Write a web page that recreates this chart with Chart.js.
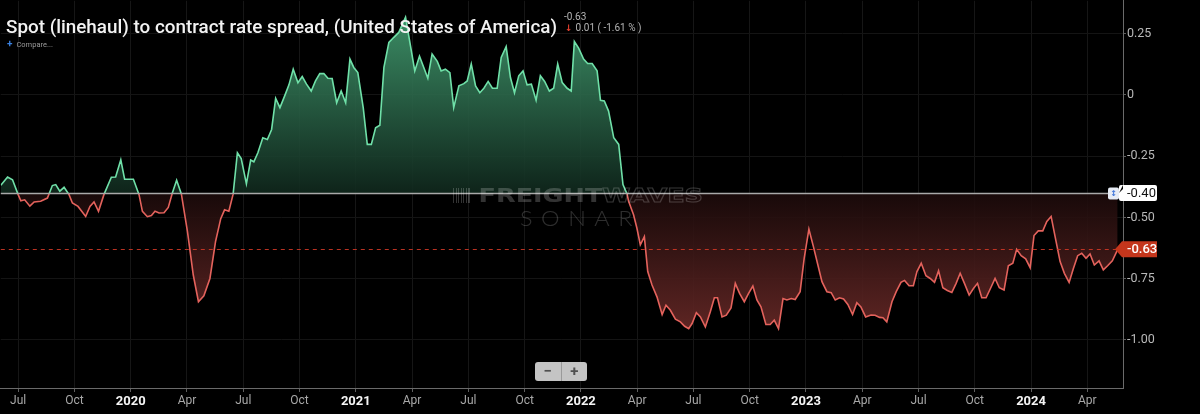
<!DOCTYPE html>
<html>
<head>
<meta charset="utf-8">
<title>Spot (linehaul) to contract rate spread</title>
<script src="https://cdn.jsdelivr.net/npm/chart.js@4.4.1/dist/chart.umd.min.js"></script>
<style>
  html, body { margin: 0; padding: 0; background: #000; }
  #wrap { position: relative; width: 1200px; height: 414px; overflow: hidden; background: #000; font-family: Roboto, sans-serif; }
  #chart { position: absolute; left: 0; top: 0; z-index: 1; }
  .over { position: absolute; z-index: 3; white-space: nowrap; transform-origin: left top; }
  #title { left: 6px; top: 17px; font-size: 18px; line-height: 20px; font-weight: 500; color: #f2f2f2; }
  #lastValue { left: 564px; top: 11px; font-size: 10px; line-height: 12px; color: #b4b4b4; }
  #change { left: 565px; top: 22px; font-size: 10px; line-height: 12px; color: #b4b4b4; }
  #change b { color: #e5402f; font-family: 'DejaVu Sans', sans-serif; font-size: 9px; font-weight: bold; margin-right: 3px; }
  #compare { left: 7px; top: 39px; font-size: 7.5px; line-height: 10px; color: #9a9a9a; }
  #compare b { color: #3b82e0; font-size: 10px; margin-right: 4px; }
  #watermark { position: absolute; z-index: 2; left: 0; top: 0; pointer-events: none; }
  #wmTop { position: absolute; left: 453px; top: 184px; font-family: 'DejaVu Sans', sans-serif; font-size: 20px; line-height: 22px; font-weight: bold; white-space: nowrap; transform-origin: left top; }
  #wmTop .bars { display: inline-block; width: 14px; height: 15px; margin-right: 6px; background: repeating-linear-gradient(90deg, rgba(255,255,255,0.2) 0 1px, transparent 1px 2px); vertical-align: -1px; }
  #wmTop .f { color: rgba(255,255,255,0.2); }
  #wmTop .w { color: transparent; -webkit-text-stroke: 1px rgba(255,255,255,0.2); }
  #wmSonar { position: absolute; left: 520px; top: 206px; font-family: Lato, sans-serif; font-weight: 300; font-size: 22px; line-height: 24px; letter-spacing: 8px; color: rgba(255,255,255,0.18); white-space: nowrap; transform-origin: left top; }
  #zoomBtns { position: absolute; z-index: 3; left: 535px; top: 362px; width: 52px; height: 19px; background: #c4c4c4; border-radius: 3px; display: flex; font-family: Roboto, sans-serif; font-weight: bold; color: #505050; }
  #zoomBtns span { flex: 1; text-align: center; font-size: 15px; line-height: 19px; }
  #zoomBtns span:first-child { border-right: 1px solid #9a9a9a; }
</style>
</head>
<body>
<div id="wrap">
  <canvas id="chart" width="1200" height="414"></canvas>
  <div id="watermark">
    <div id="wmTop"><span class="bars"></span><span class="f">FREIGHT</span><span class="w">WAVES</span></div>
    <div id="wmSonar">SONAR</div>
  </div>
  <div class="over" id="title">Spot (linehaul) to contract rate spread, (United States of America)</div>
  <div class="over" id="lastValue">-0.63</div>
  <div class="over" id="change"><b>&#8595;</b>0.01 ( -1.61 % )</div>
  <div class="over" id="compare"><b>+</b>Compare...</div>
  <div id="zoomBtns"><span>&minus;</span><span>+</span></div>
</div>
<script>
// Semanas (ano decimal) e valores
const weekYears = [
  2019.423, 2019.453, 2019.475, 2019.500, 2019.512, 2019.529, 2019.552, 2019.571, 2019.600, 2019.630,
  2019.652, 2019.667, 2019.685, 2019.704, 2019.726, 2019.741, 2019.766, 2019.800, 2019.819, 2019.837,
  2019.857, 2019.881, 2019.914, 2019.933, 2019.956, 2019.973, 2020.012, 2020.037, 2020.052, 2020.074,
  2020.092, 2020.108, 2020.126, 2020.148, 2020.167, 2020.185, 2020.204, 2020.225, 2020.252, 2020.278,
  2020.301, 2020.325, 2020.352, 2020.377, 2020.400, 2020.417, 2020.436, 2020.455, 2020.474, 2020.491,
  2020.514, 2020.533, 2020.547, 2020.565, 2020.587, 2020.607, 2020.626, 2020.644, 2020.663, 2020.684,
  2020.703, 2020.722, 2020.743, 2020.762, 2020.781, 2020.802, 2020.821, 2020.840, 2020.858, 2020.876,
  2020.895, 2020.915, 2020.935, 2020.955, 2020.974, 2020.991, 2021.009, 2021.033, 2021.051, 2021.069,
  2021.088, 2021.107, 2021.125, 2021.147, 2021.169, 2021.191, 2021.221, 2021.243, 2021.262, 2021.283,
  2021.302, 2021.320, 2021.339, 2021.362, 2021.379, 2021.398, 2021.418, 2021.435, 2021.458, 2021.480,
  2021.495, 2021.513, 2021.532, 2021.551, 2021.569, 2021.588, 2021.607, 2021.628, 2021.646, 2021.668,
  2021.687, 2021.705, 2021.724, 2021.743, 2021.761, 2021.780, 2021.801, 2021.820, 2021.839, 2021.860,
  2021.879, 2021.897, 2021.917, 2021.939, 2021.957, 2021.971, 2021.990, 2022.012, 2022.030, 2022.050,
  2022.072, 2022.087, 2022.104, 2022.123, 2022.146, 2022.168, 2022.187, 2022.205, 2022.212, 2022.234,
  2022.249, 2022.264, 2022.282, 2022.297, 2022.316, 2022.338, 2022.361, 2022.378, 2022.397, 2022.420,
  2022.442, 2022.461, 2022.479, 2022.494, 2022.513, 2022.531, 2022.553, 2022.575, 2022.593, 2022.607,
  2022.627, 2022.646, 2022.667, 2022.686, 2022.705, 2022.726, 2022.745, 2022.764, 2022.782, 2022.800,
  2022.822, 2022.841, 2022.859, 2022.878, 2022.898, 2022.915, 2022.935, 2022.952, 2022.974, 2022.992,
  2023.013, 2023.033, 2023.051, 2023.071, 2023.093, 2023.112, 2023.130, 2023.149, 2023.167, 2023.186,
  2023.207, 2023.226, 2023.244, 2023.265, 2023.289, 2023.307, 2023.327, 2023.342, 2023.359, 2023.382,
  2023.401, 2023.422, 2023.438, 2023.458, 2023.477, 2023.493, 2023.512, 2023.533, 2023.552, 2023.571,
  2023.589, 2023.608, 2023.628, 2023.648, 2023.667, 2023.685, 2023.704, 2023.725, 2023.744, 2023.762,
  2023.781, 2023.800, 2023.821, 2023.840, 2023.859, 2023.880, 2023.899, 2023.919, 2023.936, 2023.956,
  2023.976, 2023.996, 2024.013, 2024.032, 2024.052, 2024.070, 2024.089, 2024.111, 2024.129, 2024.148,
  2024.169, 2024.188, 2024.207, 2024.225, 2024.244, 2024.262, 2024.281, 2024.302, 2024.321, 2024.340,
  2024.361, 2024.385
];

const spread = [
  -0.369, -0.335, -0.346, -0.407, -0.432, -0.428, -0.454, -0.437, -0.434, -0.421,
  -0.370, -0.366, -0.393, -0.377, -0.407, -0.441, -0.455, -0.496, -0.455, -0.437,
  -0.475, -0.407, -0.336, -0.335, -0.265, -0.344, -0.344, -0.407, -0.475, -0.497,
  -0.492, -0.475, -0.482, -0.481, -0.459, -0.400, -0.348, -0.404, -0.557, -0.735,
  -0.844, -0.820, -0.749, -0.598, -0.505, -0.469, -0.475, -0.405, -0.236, -0.260,
  -0.363, -0.266, -0.273, -0.236, -0.175, -0.182, -0.141, -0.014, -0.052, -0.004,
  0.041, 0.105, 0.050, 0.075, 0.044, 0.016, 0.057, 0.087, 0.087, 0.068,
  0.067, -0.032, 0.016, -0.032, 0.146, 0.112, 0.091, -0.052, -0.202, -0.202,
  -0.134, -0.124, 0.112, 0.214, 0.235, 0.255, 0.317, 0.200, 0.098, 0.158,
  0.112, 0.068, 0.167, 0.137, 0.098, 0.105, 0.091, -0.052, 0.037, 0.046,
  0.057, 0.126, 0.037, 0.009, 0.027, 0.055, 0.027, 0.027, 0.153, 0.197,
  0.071, 0.009, 0.078, 0.098, 0.041, 0.044, -0.022, 0.078, 0.055, 0.016,
  0.027, 0.126, 0.050, 0.027, 0.016, 0.218, 0.191, 0.146, 0.128, 0.128,
  0.098, -0.022, -0.025, -0.066, -0.175, -0.202, -0.366, -0.404, -0.434, -0.489,
  -0.544, -0.612, -0.578, -0.721, -0.776, -0.824, -0.896, -0.858, -0.878, -0.915,
  -0.926, -0.944, -0.954, -0.933, -0.889, -0.906, -0.947, -0.885, -0.828, -0.828,
  -0.906, -0.899, -0.869, -0.769, -0.810, -0.844, -0.810, -0.780, -0.837, -0.865,
  -0.937, -0.937, -0.919, -0.954, -0.831, -0.837, -0.831, -0.835, -0.803, -0.667,
  -0.548, -0.619, -0.687, -0.762, -0.803, -0.807, -0.837, -0.828, -0.833, -0.855,
  -0.896, -0.848, -0.865, -0.906, -0.898, -0.899, -0.908, -0.909, -0.926, -0.844,
  -0.803, -0.765, -0.757, -0.779, -0.779, -0.721, -0.687, -0.738, -0.749, -0.765,
  -0.718, -0.787, -0.798, -0.806, -0.769, -0.728, -0.769, -0.817, -0.790, -0.769,
  -0.828, -0.828, -0.787, -0.749, -0.787, -0.796, -0.697, -0.687, -0.630, -0.656,
  -0.669, -0.705, -0.574, -0.555, -0.555, -0.516, -0.496, -0.598, -0.680, -0.728,
  -0.765, -0.708, -0.656, -0.646, -0.667, -0.649, -0.694, -0.677, -0.714, -0.697,
  -0.677, -0.630
];

const xTickValues = [2019.5, 2019.75, 2020, 2020.25, 2020.5, 2020.75, 2021, 2021.25, 2021.5, 2021.75,
                     2022, 2022.25, 2022.5, 2022.75, 2023, 2023.25, 2023.5, 2023.75, 2024, 2024.25];
const xTickLabels = ['Jul', 'Oct', '2020', 'Apr', 'Jul', 'Oct', '2021', 'Apr', 'Jul', 'Oct',
                     '2022', 'Apr', 'Jul', 'Oct', '2023', 'Apr', 'Jul', 'Oct', '2024', 'Apr'];
const yTickValues = [-1, -0.75, -0.5, -0.25, 0, 0.25];
const yTickLabels = ['-1.00', '-0.75', '-0.50', '-0.25', '0', '0.25'];

const BASELINE = -0.40;
const CURRENT = -0.63;

const X_MIN = 2019.4229;
const X_MAX = 2024.4084;
const Y_MIN = -1.196;
const Y_MAX = 0.384;

const GREEN_LINE = '#6fe0a8';
const RED_LINE = '#e4625c';

// Ajusta largura de um texto (fonte condensada simulada)
function fitWidth(id, width) {
    const el = document.getElementById(id);
    const w = el.getBoundingClientRect().width;
    if (w > 0) el.style.transform = `scaleX(${width / w})`;
}

// Linhas de referência e etiquetas do eixo
const priceTags = {
    id: 'priceTags',
    afterDatasetsDraw(chart) {
        const { ctx, chartArea: a, scales: { y } } = chart;
        const yb = Math.round(y.getPixelForValue(BASELINE)) + 0.5;
        const yc = Math.round(y.getPixelForValue(CURRENT)) + 0.5;
        ctx.save();
        ctx.strokeStyle = 'rgba(205, 55, 38, 0.9)';
        ctx.lineWidth = 1;
        ctx.setLineDash([4, 4]);
        ctx.beginPath();
        ctx.moveTo(a.left, yc);
        ctx.lineTo(a.right, yc);
        ctx.stroke();
        ctx.setLineDash([]);
        ctx.strokeStyle = '#a9a9a9';
        ctx.lineWidth = 1.5;
        ctx.beginPath();
        ctx.moveTo(a.left, yb);
        ctx.lineTo(a.right - 14, yb);
        ctx.stroke();
        ctx.restore();
    },
    afterDraw(chart) {
        const { ctx, chartArea: a, scales: { y } } = chart;
        const yb = y.getPixelForValue(BASELINE);
        const yc = y.getPixelForValue(CURRENT);
        ctx.save();

        // ícone + etiqueta da linha base
        ctx.fillStyle = '#e6ebf4';
        ctx.beginPath();
        ctx.roundRect(a.right - 15, yb - 5.5, 11, 12, 2);
        ctx.fill();
        ctx.fillStyle = '#3d74d9';
        ctx.font = 'bold 8px "DejaVu Sans"';
        ctx.textAlign = 'center';
        ctx.textBaseline = 'middle';
        ctx.fillText('\u2195', a.right - 9.5, yb + 0.5);

        ctx.fillStyle = '#ffffff';
        ctx.beginPath();
        ctx.moveTo(a.right - 4, yb);
        ctx.lineTo(a.right, yb - 4);
        ctx.lineTo(a.right, yb - 8);
        ctx.roundRect(a.right - 4, yb - 8, 38, 16, 2);
        ctx.fill();
        ctx.fillStyle = '#111';
        ctx.font = '13px Roboto';
        ctx.textAlign = 'left';
        ctx.fillText(BASELINE.toFixed(2), a.right + 4, yb + 0.5);

        // etiqueta do valor atual
        ctx.fillStyle = '#c4361c';
        ctx.beginPath();
        ctx.moveTo(a.right - 8, yc);
        ctx.lineTo(a.right - 1, yc - 8);
        ctx.lineTo(a.right + 34, yc - 8);
        ctx.lineTo(a.right + 34, yc + 8);
        ctx.lineTo(a.right - 1, yc + 8);
        ctx.closePath();
        ctx.fill();
        ctx.fillStyle = '#ffffff';
        ctx.font = '500 13px Roboto';
        ctx.fillText(CURRENT.toFixed(2), a.right + 4, yc + 0.5);
        ctx.restore();
    }
};

function applyGradients(chart) {
    const { ctx, chartArea: a, scales: { y } } = chart;
    const base = y.getPixelForValue(BASELINE);
    const f = (base - a.top) / (a.bottom - a.top);

    const line = ctx.createLinearGradient(0, a.top, 0, a.bottom);
    line.addColorStop(0, GREEN_LINE);
    line.addColorStop(f, GREEN_LINE);
    line.addColorStop(f, RED_LINE);
    line.addColorStop(1, RED_LINE);

    const green = ctx.createLinearGradient(0, y.getPixelForValue(0.32), 0, base);
    green.addColorStop(0, 'rgba(66, 156, 112, 0.9)');
    green.addColorStop(1, 'rgba(16, 40, 29, 0.9)');

    const red = ctx.createLinearGradient(0, base, 0, y.getPixelForValue(-0.96));
    red.addColorStop(0, 'rgba(26, 10, 10, 0.9)');
    red.addColorStop(1, 'rgba(102, 40, 38, 0.92)');

    const ds = chart.data.datasets[0];
    ds.borderColor = line;
    ds.fill = { target: { value: BASELINE }, above: green, below: red };
    chart.update('none');
}

document.addEventListener('DOMContentLoaded', () => {
    fitWidth('title', 551);
    fitWidth('wmTop', 250);
    fitWidth('wmSonar', 121);

    Chart.defaults.font.family = 'Roboto, sans-serif';

    const chart = new Chart(document.getElementById('chart'), {
        type: 'line',
        data: {
            datasets: [{
                label: 'Spread',
                data: weekYears.map((x, i) => ({ x, y: spread[i] })),
                borderColor: GREEN_LINE,
                borderWidth: 1.6,
                pointRadius: 0,
                tension: 0,
                fill: { target: { value: BASELINE }, above: 'rgba(40,110,80,0.6)', below: 'rgba(90,35,35,0.6)' }
            }]
        },
        options: {
            responsive: false,
            animation: false,
            layout: { padding: 0 },
            plugins: {
                legend: { display: false },
                tooltip: { enabled: false }
            },
            scales: {
                x: {
                    type: 'linear',
                    min: X_MIN,
                    max: X_MAX,
                    afterBuildTicks: scale => { scale.ticks = xTickValues.map(value => ({ value })); },
                    afterFit: scale => {
                        scale.height = 26;
                        scale.paddingLeft = 0;
                        scale.paddingRight = 0;
                    },
                    ticks: {
                        autoSkip: false,
                        maxRotation: 0,
                        padding: 2,
                        callback: value => xTickLabels[xTickValues.indexOf(value)],
                        color: ctx => /^\d{4}$/.test(xTickLabels[ctx.index]) ? '#f4f4f4' : '#a8a8a8',
                        font: ctx => /^\d{4}$/.test(xTickLabels[ctx.index])
                            ? { size: 13, weight: 'bold' }
                            : { size: 12, weight: 'normal' }
                    },
                    grid: { color: '#161616', tickColor: '#5e5e5e', tickLength: 4 },
                    border: { color: '#6a6a6a', width: 1 }
                },
                y: {
                    position: 'right',
                    min: Y_MIN,
                    max: Y_MAX,
                    afterBuildTicks: scale => { scale.ticks = yTickValues.map(value => ({ value })); },
                    afterFit: scale => {
                        scale.width = 77;
                        scale.paddingTop = 0;
                        scale.paddingBottom = 0;
                    },
                    ticks: {
                        padding: 1,
                        color: '#b8b8b8',
                        font: { size: 12.5 },
                        callback: value => yTickLabels[yTickValues.indexOf(value)]
                    },
                    grid: { color: '#141414', tickColor: '#5e5e5e', tickLength: 3 },
                    border: { color: '#6a6a6a', width: 1 }
                }
            }
        },
        plugins: [priceTags]
    });

    applyGradients(chart);
});
</script>
</body>
</html>
